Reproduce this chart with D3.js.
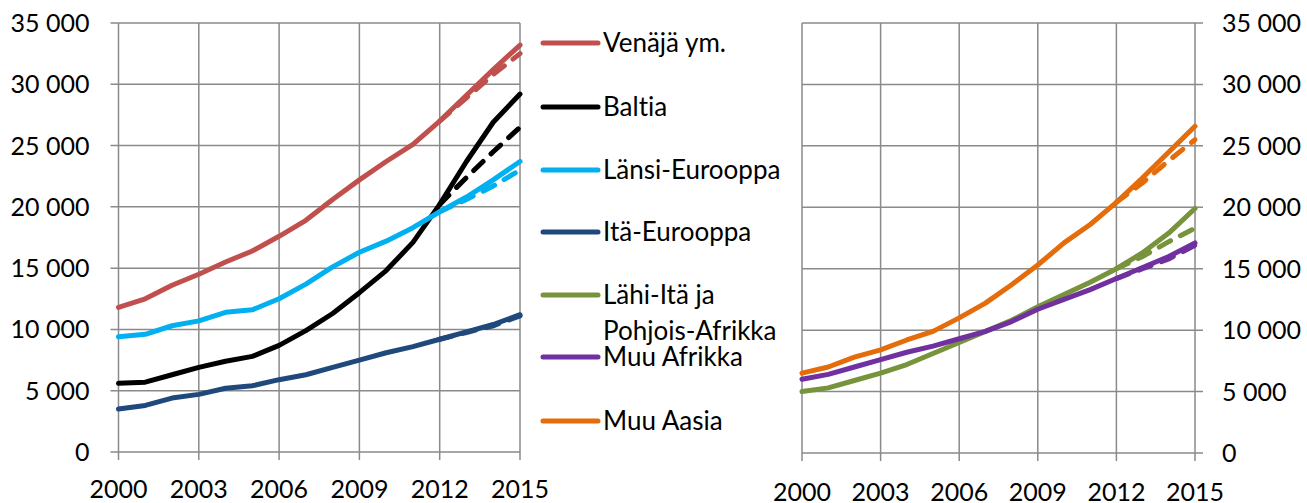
<!DOCTYPE html>
<html>
<head>
<meta charset="utf-8">
<script src="https://cdn.jsdelivr.net/npm/d3@7"></script>
<style>
  body { margin: 0; background: #fff; }
  svg { display: block; font-family: Lato, "Open Sans", sans-serif; font-variant-ligatures: none; }
</style>
</head>
<body>
<svg width="1307" height="503"></svg>
<script>
const years = d3.range(2000, 2016);
const yTicks = [0, 5000, 10000, 15000, 20000, 25000, 30000, 35000];
const xTicks = [2000, 2003, 2006, 2009, 2012, 2015];

// left panel
const venaja = [11800, 12500, 13600, 14500, 15500, 16400, 17600, 18900, 20600, 22200, 23700, 25100, 27000, 29100, 31200, 33200];
const baltia = [5600, 5700, 6300, 6900, 7400, 7800, 8700, 9900, 11300, 13000, 14800, 17100, 20200, 23700, 26900, 29200];
const lansiEur = [9400, 9600, 10300, 10700, 11400, 11600, 12500, 13700, 15100, 16300, 17200, 18300, 19600, 20800, 22200, 23700];
const itaEur = [3500, 3800, 4400, 4700, 5200, 5400, 5900, 6300, 6900, 7500, 8100, 8600, 9200, 9800, 10400, 11200];

// right panel
const lahiIta = [5000, 5300, 5900, 6500, 7200, 8100, 9000, 9900, 10800, 11900, 12900, 13900, 15000, 16300, 17900, 19900];
const muuAfrikka = [6000, 6400, 7000, 7600, 8200, 8700, 9300, 9900, 10700, 11700, 12500, 13300, 14200, 15100, 16000, 17100];
const muuAasia = [6500, 7000, 7800, 8400, 9200, 9900, 11000, 12200, 13700, 15300, 17100, 18600, 20400, 22400, 24500, 26600];

// dashed (earlier estimate) from 2012 on
const dashYears = [2012, 2013, 2014, 2015];
const venajaDash = [27000, 28900, 30800, 32500];
const baltiaDash = [20200, 22400, 24500, 26500];
const lansiEurDash = [19600, 20600, 21700, 23000];
const itaEurDash = [9200, 9750, 10300, 11100];
const lahiItaDash = [15000, 16000, 17200, 18300];
const muuAfrikkaDash = [14200, 15000, 15800, 16900];
const muuAasiaDash = [20400, 22000, 23800, 25500];

const legendNames = ["Venäjä ym.", "Baltia", "Länsi-Eurooppa", "Itä-Eurooppa", "Lähi-Itä ja|Pohjois-Afrikka", "Muu Afrikka", "Muu Aasia"];
const colors = ["#C0504D", "#000000", "#00B0F0", "#1F497D", "#77933C", "#7030A0", "#E46C0A"];

const fi = d3.formatLocale({ decimal: ",", thousands: "\u00a0", grouping: [3], currency: ["", " €"] });
const fmt = fi.format(",");

const svg = d3.select("svg");
const grid = "#8a8a8a";

function panel(opt) {
  const x = d3.scaleLinear().domain([2000, 2015]).range([opt.x0, opt.x1]);
  const y = d3.scaleLinear().domain([0, 35000]).range([opt.y0, opt.y1]);
  const g = svg.append("g");

  // horizontal grid + y ticks
  g.selectAll(".hg").data(yTicks).enter().append("line")
    .attr("x1", opt.side === "left" ? opt.x0 - 8 : opt.x0)
    .attr("x2", opt.side === "left" ? opt.x1 : opt.x1 + 8)
    .attr("y1", d => y(d)).attr("y2", d => y(d))
    .attr("stroke", grid).attr("stroke-width", 1.5);

  // vertical grid + x ticks
  g.selectAll(".vg").data(xTicks).enter().append("line")
    .attr("x1", d => x(d)).attr("x2", d => x(d))
    .attr("y1", opt.y1).attr("y2", opt.y0 + 8)
    .attr("stroke", grid).attr("stroke-width", 1.5);

  g.selectAll(".yl").data(yTicks).enter().append("text")
    .attr("x", opt.side === "left" ? opt.x0 - 29 : opt.x1 + 27)
    .attr("y", d => y(d)).attr("dy", "0.36em")
    .attr("text-anchor", opt.side === "left" ? "end" : "start")
    .attr("font-size", 25).attr("fill", "#000")
    .text(d => fmt(d));

  g.selectAll(".xl").data(xTicks).enter().append("text")
    .attr("x", d => x(d)).attr("y", opt.xLabelY)
    .attr("text-anchor", "middle")
    .attr("font-size", 25).attr("fill", "#000")
    .text(d => d);

  const line = d3.line().x(d => x(d[0])).y(d => y(d[1]));

  opt.series.forEach(s => {
    g.append("path").datum(years.map((yr, i) => [yr, s.values[i]]))
      .attr("d", line).attr("fill", "none")
      .attr("stroke", s.color).attr("stroke-width", 5)
      .attr("stroke-linecap", "round").attr("stroke-linejoin", "round");
  });
  opt.series.forEach(s => {
    g.append("path").datum(dashYears.map((yr, i) => [yr, s.dash[i]]))
      .attr("d", line).attr("fill", "none")
      .attr("stroke", s.color).attr("stroke-width", 5)
      .attr("stroke-dasharray", "13,11")
      .attr("stroke-linecap", "round");
  });
}

panel({
  x0: 118.5, x1: 520, y0: 452, y1: 23, side: "left", xLabelY: 498,
  series: [
    { values: venaja, dash: venajaDash, color: colors[0] },
    { values: baltia, dash: baltiaDash, color: colors[1] },
    { values: lansiEur, dash: lansiEurDash, color: colors[2] },
    { values: itaEur, dash: itaEurDash, color: colors[3] }
  ]
});

panel({
  x0: 802, x1: 1195, y0: 453, y1: 23, side: "right", xLabelY: 501,
  series: [
    { values: lahiIta, dash: lahiItaDash, color: colors[4] },
    { values: muuAfrikka, dash: muuAfrikkaDash, color: colors[5] },
    { values: muuAasia, dash: muuAasiaDash, color: colors[6] }
  ]
});

// legend
const legendY = [43, 107, 170, 232, 295, 357, 421];
const lg = svg.append("g");
legendNames.forEach((name, i) => {
  lg.append("line")
    .attr("x1", 543).attr("x2", 598)
    .attr("y1", legendY[i]).attr("y2", legendY[i])
    .attr("stroke", colors[i]).attr("stroke-width", 5)
    .attr("stroke-linecap", "round");
  const t = lg.append("text")
    .attr("x", 603).attr("y", legendY[i])
    .attr("font-size", 26).attr("fill", "#000");
  name.split("|").forEach((part, j) => {
    t.append("tspan").attr("x", 603).attr("dy", j === 0 ? "0.36em" : 36).text(part);
  });
});
</script>
</body>
</html>
